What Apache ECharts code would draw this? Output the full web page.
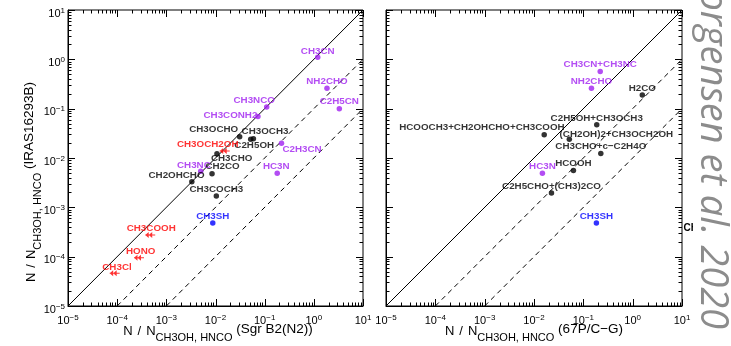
<!DOCTYPE html>
<html>
<head>
<meta charset="utf-8">
<script src="https://cdn.jsdelivr.net/npm/echarts@6/dist/echarts.min.js"></script>
<style>
  html, body { margin: 0; padding: 0; background: #fff; }
  #chart { width: 731px; height: 346px; }
</style>
</head>
<body>
<div id="chart"></div>
<script>
// Abundances relative to CH3OH (O-bearing) or HNCO (N-bearing)
// Left panel: Sgr B2(N2) (x) against IRAS16293B (y)
const sgrNames = ['CH3CN', 'NH2CHO', 'C2H5CN', 'CH3NCO', 'CH3CONH2', 'CH3OCHO', 'CH3OCH3',
  'C2H5OH', 'CH3OCH2OH', 'CH3CHO', 'CH2CO', 'CH3NC', 'CH2OHCHO', 'CH3COCH3', 'C2H3CN',
  'HC3N', 'CH3SH', 'CH3COOH', 'HONO', 'CH3Cl'];
const sgrX = [1.2, 1.85, 3.3, 0.11, 0.073, 0.031, 0.059, 0.052, 0.0154, 0.0107, 0.0085,
  0.005, 0.0033, 0.0104, 0.22, 0.18, 0.0088, 0.00047, 0.000278, 0.000089];
const sgrY = [1.1, 0.26, 0.1, 0.108, 0.069, 0.027, 0.0246, 0.0239, 0.0139, 0.0122, 0.0048,
  0.0054, 0.0033, 0.0017, 0.020, 0.0049, 0.00048, 0.000275, 0.0000953, 0.0000459];
const sgrKind = ['N', 'N', 'N', 'N', 'N', 'O', 'O', 'O', 'limit', 'O', 'O', 'N', 'O', 'O',
  'N', 'N', 'S', 'limit', 'limit', 'limit'];

// Right panel: comet 67P/C-G (x) against IRAS16293B (y)
const cgNames = ['CH3CN+CH3NC', 'NH2CHO', 'H2CO', 'C2H5OH+CH3OCH3', 'HCOOCH3+CH2OHCHO+CH3COOH',
  '(CH2OH)2+CH3OCH2OH', 'CH3CHO+c\u2212C2H4O', 'HCOOH', 'HC3N', 'C2H5CHO+(CH3)2CO', 'CH3SH'];
const cgX = [0.22, 0.146, 1.57, 0.187, 0.0161, 0.052, 0.226, 0.063, 0.0148, 0.0226, 0.184];
const cgY = [0.57, 0.26, 0.19, 0.047, 0.0297, 0.0239, 0.0124, 0.0056, 0.0049, 0.00195, 0.00048];
const cgKind = ['N', 'N', 'O', 'O', 'O', 'O', 'O', 'O', 'N', 'O', 'S'];

// Axis range and reference lines y = r * x
const axisMin = 1e-5;
const axisMax = 10;
const decadeExps = [-5, -4, -3, -2, -1, 0, 1];
const lineRatios = [1, 0.1, 0.01];

// ---- styling / layout ----
const FONT = '"Liberation Sans", Arial, sans-serif';
const kindColor = { O: '#000000', N: '#a020f0', S: '#0000ff', limit: '#ff0000' };
const arrowPath = 'path://M0,3 L3.5,0 L3.5,6 Z M3.5,3 L7,0 L7,6 Z M0,2.5 L10,2.5 L10,3.5 L0,3.5 Z';
const dotSize = [5.5, 5.5];
const arrowSize = [10, 6];

// label centre offsets from the marker, in pixels
const sgrLabelOffset = {
  'CH3CN': [0, -6], 'NH2CHO': [0, -7], 'C2H5CN': [0, -7], 'CH3NCO': [-12.5, -6.7],
  'CH3CONH2': [-27.5, -1.7], 'CH3OCHO': [-26, -7.7], 'CH3OCH3': [11.6, -7.7],
  'C2H5OH': [3.5, 6.4], 'CH3OCH2OH': [-17, -7], 'CH3CHO': [14.7, 5], 'CH2CO': [10.5, -7],
  'CH3NC': [-6.8, -6.3], 'CH2OHCHO': [-15.3, -6.3], 'CH3COCH3': [0, -7],
  'C2H3CN': [20.5, 6.3], 'HC3N': [-1, -6.6], 'CH3SH': [0, -7], 'CH3COOH': [1, -6.7],
  'HONO': [1.7, -6.7], 'CH3Cl': [2.3, -6.3]
};
const cgLabelOffset = {
  'HCOOCH3+CH2OHCHO+CH3COOH': [-62.3, -7],
  '(CH2OH)2+CH3OCH2OH': [47, -5]
};

function pointData(names, xs, ys, kinds, offsets) {
  return names.map((n, i) => {
    const c = kindColor[kinds[i]];
    const limit = kinds[i] === 'limit';
    const size = limit ? arrowSize : dotSize;
    const off = offsets[n] || [0, -7];
    return {
      name: n,
      value: [xs[i], ys[i]],
      symbol: limit ? arrowPath : 'circle',
      symbolSize: size,
      itemStyle: { color: c },
      label: {
        show: true,
        position: [size[0] / 2 + off[0], size[1] / 2 + off[1]],
        align: 'center',
        verticalAlign: 'middle',
        color: c,
        fontFamily: FONT,
        fontSize: 9.8,
        fontWeight: 'bold',
        formatter: '{b}'
      }
    };
  });
}

function expLabel(v) {
  const e = Math.round(Math.log10(v));
  return '{b|10}{e|' + (e < 0 ? '\u2212' + (-e) : e) + '}';
}

const tickRich = {
  b: { fontSize: 11, fontFamily: FONT, lineHeight: 14, color: '#000' },
  e: { fontSize: 8, fontFamily: FONT, lineHeight: 8, verticalAlign: 'top', color: '#000' }
};

function logAxis(gridIndex, showLabel, isY) {
  return {
    type: 'log', logBase: 10, gridIndex,
    min: axisMin, max: axisMax, interval: 1,
    axisLine: { show: true, lineStyle: { color: '#000', width: 1 } },
    axisTick: { show: false },
    splitLine: { show: false },
    minorTick: { show: false },
    axisLabel: showLabel ? {
      show: true,
      showMinLabel: true, showMaxLabel: true,
      margin: isY ? 3 : 8,
      padding: isY ? [7, 0, 0, 0] : 0,
      formatter: expLabel,
      rich: tickRich
    } : { show: false }
  };
}

// tick values: majors at decades, minors at 2..9 x 10^e
const tickValues = [];
decadeExps.forEach(e => {
  const base = Math.pow(10, e);
  const top = e === decadeExps[decadeExps.length - 1] ? 1 : 9;
  for (let m = 1; m <= top; m++) tickValues.push(m * base);
});
function isMajor(v) {
  const l = Math.log10(v);
  return Math.abs(l - Math.round(l)) < 1e-6;
}
const tickLine = (x1, y1, x2, y2) => ({
  type: 'line', shape: { x1, y1, x2, y2 }, style: { stroke: '#000', lineWidth: 1 }
});
function xTicks(params, api) {
  const v = api.value(0);
  const len = isMajor(v) ? 7 : 3.5;
  const b = api.coord([v, axisMin]);
  const t = api.coord([v, axisMax]);
  const x = Math.round(b[0]) + 0.5;
  return { type: 'group', children: [tickLine(x, b[1], x, b[1] - len), tickLine(x, t[1], x, t[1] + len)] };
}
function yTicks(params, api) {
  const v = api.value(1);
  const len = isMajor(v) ? 7 : 3.5;
  const l = api.coord([axisMin, v]);
  const r = api.coord([axisMax, v]);
  const y = Math.round(l[1]) + 0.5;
  return { type: 'group', children: [tickLine(l[0], y, l[0] + len, y), tickLine(r[0], y, r[0] - len, y)] };
}

function refLines(gridIndex) {
  return lineRatios.map(r => ({
    type: 'line', xAxisIndex: gridIndex, yAxisIndex: gridIndex,
    data: [[Math.max(axisMin, axisMin / r), axisMin], [axisMax, axisMax * r]],
    symbol: 'none', silent: true, animation: false,
    lineStyle: { color: '#000', width: 1, type: r === 1 ? 'solid' : [5, 4] },
    z: 1
  }));
}

function tickSeries(gridIndex) {
  return [
    { type: 'custom', xAxisIndex: gridIndex, yAxisIndex: gridIndex, renderItem: xTicks,
      data: tickValues.map(v => [v, axisMin]), silent: true, animation: false, clip: false, z: 3 },
    { type: 'custom', xAxisIndex: gridIndex, yAxisIndex: gridIndex, renderItem: yTicks,
      data: tickValues.map(v => [axisMin, v]), silent: true, animation: false, clip: false, z: 3 }
  ];
}

function pointSeries(gridIndex, data) {
  return {
    type: 'scatter', xAxisIndex: gridIndex, yAxisIndex: gridIndex,
    data, animation: false, z: 5
  };
}

// axis titles: N / N_{CH3OH, HNCO} (source), subscript lowered, source slightly raised
const titleRich = {
  m: { fontSize: 13, fontFamily: FONT, verticalAlign: 'middle', fill: '#000' },
  sl: { fontSize: 13, fontFamily: FONT, verticalAlign: 'middle', padding: [0, 5], fill: '#000' },
  s: { fontSize: 11, fontFamily: FONT, verticalAlign: 'middle', padding: [13, 0, 0, 0], fill: '#000' },
  p: { fontSize: 13.5, fontFamily: FONT, verticalAlign: 'middle', padding: [0, 0, 4, 0], fill: '#000' }
};
const titleText = where => '{m|N}{sl|/}{m|N}{s|CH3OH, HNCO}{p| (' + where + ')}';

const chart = echarts.init(document.getElementById('chart'), null, { renderer: 'canvas' });
chart.setOption({
  animation: false,
  backgroundColor: '#fff',
  textStyle: { fontFamily: FONT },
  grid: [
    { left: 68, top: 10, width: 295, height: 296, show: true, borderColor: '#000', borderWidth: 1, backgroundColor: 'transparent' },
    { left: 386, top: 10, width: 296, height: 296, show: true, borderColor: '#000', borderWidth: 1, backgroundColor: 'transparent' }
  ],
  xAxis: [logAxis(0, true, false), logAxis(1, true, false)],
  yAxis: [logAxis(0, true, true), logAxis(1, false, true)],
  series: [
    ...refLines(0), ...refLines(1),
    ...tickSeries(0), ...tickSeries(1),
    pointSeries(0, pointData(sgrNames, sgrX, sgrY, sgrKind, sgrLabelOffset)),
    pointSeries(1, pointData(cgNames, cgX, cgY, cgKind, cgLabelOffset))
  ],
  graphic: [
    { type: 'text', x: 218, y: 331, silent: true,
      style: { text: titleText('Sgr B2(N2)'), rich: titleRich, align: 'center', verticalAlign: 'middle' } },
    { type: 'text', x: 534, y: 331, silent: true,
      style: { text: titleText('67P/C\u2212G'), rich: titleRich, align: 'center', verticalAlign: 'middle' } },
    { type: 'text', x: 31, y: 182, rotation: Math.PI / 2, silent: true,
      style: { text: titleText('IRAS16293B'), rich: titleRich, align: 'center', verticalAlign: 'middle' } },
    { type: 'text', x: 683.5, y: 228, silent: true,
      style: { text: 'CH', font: 'bold 10px ' + FONT, fill: '#000', align: 'left', verticalAlign: 'middle' } },
    { type: 'rect', shape: { x: 693, y: 220, width: 12, height: 16 }, silent: true, style: { fill: '#fff' }, z: 10 },
    { type: 'text', x: 712, y: 329, rotation: -Math.PI / 2, silent: true, z: 20,
      style: { text: 'Jorgensen et al. 2020', font: 'italic 38px "Open Sans", sans-serif', fill: '#8c8c8c',
               align: 'right', verticalAlign: 'middle' } }
  ]
});
</script>
</body>
</html>
